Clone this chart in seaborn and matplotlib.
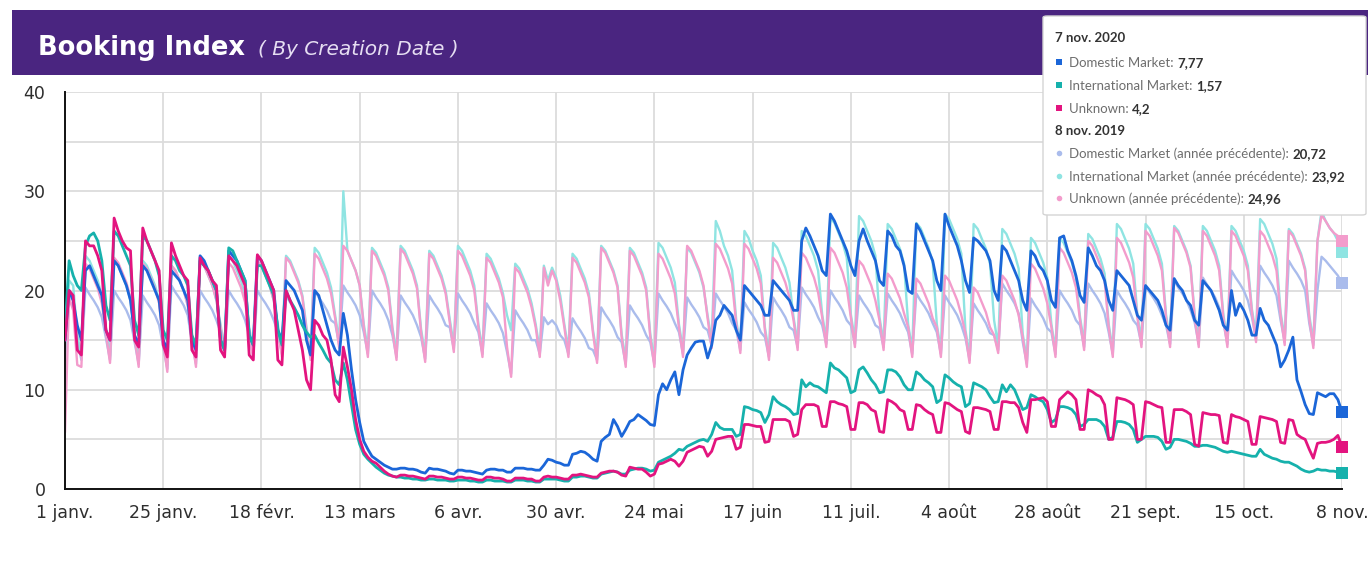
import matplotlib
matplotlib.use("Agg")
import numpy as np
import pandas as pd
import matplotlib.pyplot as plt
import seaborn as sns
from matplotlib.patches import Rectangle, FancyBboxPatch
from matplotlib.lines import Line2D

# ---------------------------------------------------------------- data
start_date = "2020-01-01"
tick_labels = ["1 janv.", "25 janv.", "18 févr.", "13 mars", "6 avr.", "30 avr.",
               "24 mai", "17 juin", "11 juil.", "4 août", "28 août", "21 sept.",
               "15 oct.", "8 nov."]

# daily booking index, first row = Wed 1 Jan .. Sun 5 Jan, then one row per week (Mon..Sun)
dom_2020 = [
    [15.0, 20.0, 19.0, 16.5, 15.0],
    [22.0, 22.5, 21.5, 20.5, 19.5, 16.0, 15.0],
    [23.0, 22.5, 21.5, 20.5, 19.0, 15.5, 14.5],
    [22.5, 22.0, 21.0, 20.0, 19.0, 15.0, 14.0],
    [22.0, 21.5, 21.0, 20.0, 19.0, 15.0, 14.0],
    [23.5, 23.0, 22.0, 21.0, 20.0, 15.0, 14.0],
    [24.0, 23.5, 23.0, 22.0, 21.0, 15.5, 14.5],
    [23.5, 23.0, 22.0, 21.0, 20.0, 16.0, 15.0],
    [21.0, 20.5, 20.0, 19.0, 18.0, 15.0, 13.5],
    [20.0, 19.5, 18.0, 16.5, 15.0, 14.0, 13.5],
    [17.7, 15.5, 12.0, 9.0, 6.7, 4.8, 4.0],
    [3.3, 3.0, 2.7, 2.4, 2.2, 2.0, 2.0],
    [2.1, 2.1, 2.0, 2.0, 1.9, 1.7, 1.6],
    [2.1, 2.0, 2.0, 1.9, 1.8, 1.6, 1.5],
    [1.9, 1.9, 1.8, 1.8, 1.7, 1.6, 1.5],
    [1.9, 2.0, 2.0, 1.9, 1.9, 1.7, 1.7],
    [2.1, 2.1, 2.1, 2.0, 2.0, 1.9, 1.9],
    [2.4, 3.0, 2.9, 2.7, 2.6, 2.4, 2.4],
    [3.5, 3.6, 3.8, 3.7, 3.4, 3.0, 2.8],
    [4.8, 5.2, 5.5, 7.0, 6.3, 5.3, 6.0],
    [6.8, 7.0, 7.5, 7.2, 6.9, 6.5, 6.4],
    [9.5, 10.6, 10.0, 11.0, 11.8, 9.5, 12.0],
    [13.5, 14.2, 14.8, 14.9, 14.9, 13.2, 14.5],
    [17.0, 17.5, 18.5, 18.0, 17.5, 16.0, 15.0],
    [20.5, 20.0, 19.5, 19.0, 18.5, 17.5, 17.5],
    [21.0, 20.5, 20.0, 19.5, 19.0, 18.0, 18.0],
    [25.0, 26.3, 25.5, 24.5, 23.5, 22.0, 21.5],
    [27.7, 27.0, 26.0, 25.0, 24.0, 22.5, 21.5],
    [25.0, 26.2, 25.0, 24.0, 23.0, 21.0, 20.5],
    [26.0, 25.5, 24.5, 24.0, 22.5, 20.0, 19.7],
    [26.7, 26.0, 25.0, 24.0, 23.0, 21.0, 20.0],
    [27.7, 26.5, 25.5, 24.5, 23.0, 21.0, 19.8],
    [25.3, 25.0, 24.5, 24.0, 23.0, 20.0, 19.0],
    [24.5, 24.0, 23.0, 22.0, 21.0, 19.0, 18.0],
    [24.0, 23.5, 22.5, 22.0, 21.0, 19.0, 18.3],
    [25.3, 25.5, 24.0, 23.0, 21.5, 19.5, 18.8],
    [24.3, 23.5, 22.5, 22.0, 21.0, 19.0, 18.0],
    [22.0, 21.5, 21.0, 20.5, 19.0, 17.5, 17.0],
    [20.5, 20.0, 19.5, 19.0, 18.0, 16.5, 16.0],
    [21.2, 20.5, 20.0, 19.0, 18.5, 17.0, 16.5],
    [21.0, 20.5, 20.0, 19.0, 18.0, 16.5, 16.0],
    [20.0, 17.5, 18.7, 18.0, 17.0, 15.5, 15.5],
    [18.2, 17.0, 16.5, 15.5, 14.5, 12.3, 13.0],
    [14.0, 15.3, 11.0, 9.8, 8.5, 7.6, 7.5],
    [9.7, 9.5, 9.3, 9.6, 9.6, 9.0, 7.77],
]

intl_2020 = [
    [16.0, 23.0, 21.5, 20.5, 20.0],
    [24.5, 25.5, 25.8, 25.0, 23.0, 18.5, 17.0],
    [26.0, 25.5, 24.5, 23.5, 22.5, 17.0, 15.5],
    [25.5, 25.0, 24.0, 23.0, 21.5, 16.0, 15.0],
    [23.5, 23.0, 22.0, 21.5, 20.5, 15.5, 14.5],
    [23.0, 22.5, 22.0, 21.0, 20.0, 15.0, 14.0],
    [24.3, 24.0, 23.0, 22.0, 21.0, 15.5, 14.5],
    [22.5, 22.5, 21.5, 20.5, 19.5, 16.0, 14.5],
    [20.0, 19.0, 18.3, 17.5, 16.5, 15.8, 15.3],
    [15.5, 14.7, 14.0, 13.2, 12.7, 11.0, 10.5],
    [12.7, 11.0, 8.5, 6.0, 4.5, 3.5, 3.0],
    [2.6, 2.2, 1.9, 1.6, 1.4, 1.3, 1.2],
    [1.2, 1.1, 1.1, 1.0, 1.0, 0.9, 0.9],
    [1.0, 1.0, 0.9, 0.9, 0.9, 0.8, 0.8],
    [0.9, 0.9, 0.9, 0.8, 0.8, 0.7, 0.7],
    [0.9, 0.9, 0.8, 0.8, 0.8, 0.7, 0.7],
    [0.9, 0.9, 0.9, 0.8, 0.8, 0.7, 0.7],
    [1.0, 1.0, 1.0, 1.0, 0.9, 0.8, 0.8],
    [1.2, 1.2, 1.3, 1.3, 1.2, 1.1, 1.1],
    [1.5, 1.6, 1.7, 1.8, 1.7, 1.5, 1.5],
    [1.9, 2.0, 2.1, 2.1, 2.0, 1.8, 1.9],
    [2.7, 2.9, 3.1, 3.3, 3.6, 4.0, 3.9],
    [4.3, 4.5, 4.7, 4.9, 5.0, 4.8, 5.5],
    [6.7, 6.2, 6.0, 6.0, 6.0, 5.3, 5.5],
    [8.3, 8.2, 8.0, 7.9, 7.7, 6.7, 7.5],
    [9.3, 8.8, 8.5, 8.3, 8.0, 7.5, 7.6],
    [11.0, 10.3, 10.7, 10.4, 10.3, 10.0, 9.7],
    [12.7, 12.2, 12.0, 11.6, 11.2, 9.7, 9.9],
    [12.0, 12.3, 11.7, 11.0, 10.5, 9.7, 9.8],
    [12.0, 12.0, 11.8, 11.3, 10.5, 10.0, 10.0],
    [11.8, 11.5, 11.0, 10.7, 10.3, 8.7, 9.0],
    [11.5, 11.2, 10.8, 10.5, 10.3, 8.3, 8.6],
    [10.7, 10.5, 10.3, 10.0, 9.3, 8.7, 8.8],
    [10.5, 9.8, 10.5, 10.0, 9.0, 8.0, 8.2],
    [9.5, 9.3, 9.0, 8.8, 8.0, 6.7, 7.0],
    [8.3, 8.3, 8.2, 8.0, 7.5, 6.3, 6.5],
    [7.0, 7.0, 7.0, 6.8, 6.3, 5.0, 5.2],
    [6.8, 6.8, 6.7, 6.5, 6.0, 4.7, 5.0],
    [5.3, 5.3, 5.3, 5.2, 4.8, 4.0, 4.2],
    [5.0, 5.0, 4.9, 4.8, 4.6, 4.3, 4.3],
    [4.4, 4.4, 4.3, 4.2, 4.0, 3.8, 3.7],
    [3.8, 3.7, 3.6, 3.5, 3.4, 3.3, 3.3],
    [4.0, 3.5, 3.3, 3.1, 3.0, 2.8, 2.7],
    [2.7, 2.5, 2.3, 2.0, 1.8, 1.7, 1.8],
    [2.0, 1.9, 1.9, 1.8, 1.8, 1.7, 1.57],
]

unk_2020 = [
    [15.0, 20.0, 19.5, 14.0, 13.5],
    [25.0, 24.5, 24.5, 23.5, 22.0, 16.0, 15.0],
    [27.3, 26.0, 25.0, 24.3, 24.0, 15.0, 14.3],
    [26.3, 25.0, 24.0, 23.0, 22.0, 14.5, 13.3],
    [24.8, 23.5, 22.5, 21.5, 21.0, 14.0, 13.3],
    [23.3, 22.5, 22.0, 21.0, 20.5, 14.0, 13.3],
    [23.5, 23.0, 22.5, 21.5, 20.5, 13.5, 13.0],
    [23.6, 23.0, 22.0, 21.0, 20.0, 13.0, 12.5],
    [20.0, 19.0, 18.0, 16.0, 14.0, 11.0, 10.0],
    [17.0, 16.5, 15.5, 15.0, 13.0, 9.5, 8.8],
    [14.3, 12.3, 10.0, 7.0, 5.0, 3.8, 3.2],
    [2.8, 2.6, 2.2, 1.8, 1.5, 1.3, 1.2],
    [1.4, 1.4, 1.3, 1.3, 1.2, 1.1, 1.0],
    [1.3, 1.3, 1.2, 1.2, 1.1, 1.0, 1.0],
    [1.2, 1.2, 1.1, 1.1, 1.0, 0.9, 0.9],
    [1.2, 1.2, 1.1, 1.1, 1.0, 0.8, 0.8],
    [1.1, 1.1, 1.1, 1.0, 1.0, 0.8, 0.8],
    [1.2, 1.3, 1.2, 1.2, 1.1, 1.0, 1.0],
    [1.4, 1.4, 1.5, 1.4, 1.3, 1.2, 1.2],
    [1.6, 1.7, 1.8, 1.8, 1.7, 1.4, 1.3],
    [2.2, 2.1, 2.0, 2.0, 1.7, 1.3, 1.5],
    [2.5, 2.6, 2.8, 3.0, 2.8, 2.3, 2.8],
    [3.7, 3.9, 4.1, 4.3, 4.2, 3.3, 3.8],
    [5.0, 5.1, 5.2, 5.3, 5.3, 4.0, 4.2],
    [6.5, 6.5, 6.4, 6.3, 6.3, 4.7, 4.8],
    [7.0, 7.0, 7.0, 7.0, 6.8, 5.3, 5.5],
    [8.0, 8.5, 8.5, 8.5, 8.3, 6.3, 6.3],
    [8.8, 8.8, 8.6, 8.5, 8.3, 6.0, 6.0],
    [8.7, 8.7, 8.5, 8.0, 7.8, 5.8, 5.7],
    [9.0, 8.8, 8.5, 8.0, 7.8, 6.0, 6.0],
    [8.5, 8.4, 8.0, 7.7, 7.5, 5.7, 5.7],
    [8.7, 8.6, 8.3, 8.0, 7.8, 5.8, 5.6],
    [8.2, 8.2, 8.1, 8.0, 7.8, 6.0, 6.0],
    [8.8, 8.8, 8.7, 8.7, 8.2, 6.7, 5.7],
    [9.0, 9.0, 9.1, 9.2, 8.8, 6.3, 6.3],
    [9.0, 9.4, 9.8, 9.5, 9.0, 6.0, 6.0],
    [10.0, 9.8, 9.5, 9.3, 8.5, 5.0, 5.0],
    [9.2, 9.1, 9.0, 8.8, 8.5, 5.0, 5.0],
    [8.8, 8.7, 8.5, 8.3, 8.2, 4.7, 4.7],
    [8.0, 8.0, 8.0, 7.8, 7.5, 4.5, 4.3],
    [7.7, 7.6, 7.5, 7.5, 7.4, 4.7, 4.6],
    [7.5, 7.3, 7.2, 7.0, 6.8, 4.5, 4.5],
    [7.3, 7.2, 7.1, 7.0, 6.8, 4.7, 4.6],
    [7.0, 6.9, 5.5, 5.2, 5.0, 4.0, 3.1],
    [4.6, 4.7, 4.7, 4.8, 5.0, 5.4, 4.2],
]

dom_2019 = [
    [13.0, 19.5, 19.0, 15.0, 13.0],
    [20.3, 19.6, 19.0, 18.3, 17.3, 15.2, 13.0],
    [20.0, 19.3, 18.7, 18.0, 17.0, 14.8, 12.6],
    [19.5, 18.8, 18.2, 17.5, 16.5, 14.3, 12.1],
    [20.5, 19.8, 19.2, 18.5, 17.5, 14.8, 12.6],
    [20.0, 19.3, 18.7, 18.0, 17.0, 15.8, 13.6],
    [20.0, 19.3, 18.7, 18.0, 17.0, 15.5, 13.3],
    [20.0, 19.3, 18.7, 18.0, 17.0, 15.8, 13.6],
    [19.5, 18.8, 18.2, 17.5, 16.5, 15.5, 13.3],
    [20.0, 19.3, 18.7, 18.0, 17.0, 16.7, 14.5],
    [20.5, 19.8, 19.2, 18.5, 17.5, 15.8, 13.6],
    [20.0, 19.3, 18.7, 18.0, 17.0, 15.5, 13.3],
    [19.5, 18.8, 18.2, 17.5, 16.5, 15.3, 13.1],
    [19.5, 18.8, 18.2, 17.5, 16.5, 16.3, 14.1],
    [19.7, 19.0, 18.4, 17.7, 16.7, 15.8, 13.6],
    [18.7, 18.0, 17.4, 16.7, 15.7, 13.8, 11.6],
    [18.0, 17.3, 16.7, 16.0, 15.0, 15.0, 13.6],
    [17.3, 16.6, 17.0, 16.5, 15.5, 15.0, 13.6],
    [17.2, 16.5, 15.9, 15.2, 14.2, 14.0, 13.0],
    [18.3, 17.6, 17.0, 16.3, 15.3, 14.8, 12.6],
    [18.5, 17.8, 17.2, 16.5, 15.5, 14.8, 12.6],
    [19.7, 19.0, 18.4, 17.7, 16.7, 15.8, 13.6],
    [19.3, 18.6, 18.0, 17.3, 16.3, 16.0, 14.5],
    [19.7, 19.0, 18.4, 17.7, 16.7, 16.0, 14.0],
    [18.8, 18.1, 17.5, 16.8, 15.8, 15.3, 13.3],
    [19.3, 18.6, 18.0, 17.3, 16.3, 16.0, 14.3],
    [20.3, 19.6, 19.0, 18.3, 17.3, 16.5, 14.6],
    [20.0, 19.3, 18.7, 18.0, 17.0, 16.5, 14.6],
    [19.5, 18.8, 18.2, 17.5, 16.5, 16.2, 14.3],
    [19.7, 19.0, 18.4, 17.7, 16.7, 15.8, 13.6],
    [19.7, 19.0, 18.4, 17.7, 16.7, 15.8, 13.6],
    [19.5, 18.8, 18.2, 17.5, 16.5, 15.2, 13.0],
    [18.7, 18.0, 17.4, 16.7, 15.7, 15.5, 14.0],
    [20.7, 20.0, 19.4, 18.7, 17.7, 14.8, 12.6],
    [19.2, 18.5, 17.9, 17.2, 16.2, 15.8, 13.6],
    [20.0, 19.3, 18.7, 18.0, 17.0, 16.5, 14.3],
    [20.7, 20.0, 19.4, 18.7, 17.7, 15.8, 13.6],
    [20.0, 19.3, 18.7, 18.0, 17.0, 16.5, 14.6],
    [20.5, 19.8, 19.2, 18.5, 17.5, 16.5, 14.6],
    [21.0, 20.3, 19.7, 19.0, 18.0, 16.8, 14.6],
    [21.3, 20.6, 20.0, 19.3, 18.3, 16.8, 14.6],
    [22.0, 21.3, 20.7, 20.0, 19.0, 17.3, 15.1],
    [22.5, 21.8, 21.2, 20.5, 19.5, 17.0, 14.8],
    [23.0, 22.3, 21.7, 21.0, 20.0, 16.7, 14.5],
    [20.0, 23.4, 23.0, 22.5, 22.0, 21.5, 20.72],
]

intl_2019 = [
    [14.0, 21.0, 20.5, 15.5, 13.5],
    [23.5, 23.0, 22.0, 21.0, 19.5, 16.0, 13.4],
    [23.0, 22.5, 21.5, 20.5, 19.0, 15.6, 13.0],
    [23.0, 22.5, 21.5, 20.5, 19.0, 15.1, 12.5],
    [22.5, 22.0, 21.0, 20.0, 18.5, 15.6, 13.0],
    [23.0, 22.5, 21.5, 20.5, 19.0, 16.6, 14.0],
    [23.5, 23.0, 22.0, 21.0, 19.5, 16.3, 13.7],
    [23.0, 22.5, 21.5, 20.5, 19.0, 16.6, 14.0],
    [23.5, 23.0, 22.0, 21.0, 19.5, 16.3, 13.7],
    [24.3, 23.8, 22.8, 21.8, 20.3, 17.5, 14.9],
    [30.0, 24.0, 23.0, 22.0, 20.5, 16.6, 14.0],
    [24.3, 23.8, 22.8, 21.8, 20.3, 16.3, 13.7],
    [24.5, 24.0, 23.0, 22.0, 20.5, 16.1, 13.5],
    [24.0, 23.5, 22.5, 21.5, 20.0, 17.1, 14.5],
    [24.5, 24.0, 23.0, 22.0, 20.5, 16.6, 14.0],
    [23.7, 23.2, 22.2, 21.2, 19.7, 17.5, 16.0],
    [22.7, 22.2, 21.2, 20.2, 18.7, 16.6, 14.0],
    [22.5, 21.0, 22.3, 21.3, 19.5, 16.6, 14.0],
    [23.7, 23.2, 22.2, 21.2, 19.7, 16.0, 13.4],
    [24.5, 24.0, 23.0, 22.0, 20.5, 15.6, 13.0],
    [24.3, 23.8, 22.8, 21.8, 20.3, 15.6, 13.0],
    [24.8, 24.3, 23.3, 22.3, 20.8, 16.6, 14.0],
    [24.3, 23.8, 22.8, 21.8, 20.3, 17.5, 14.9],
    [27.0, 26.0, 24.5, 23.5, 22.0, 17.0, 14.4],
    [26.0, 25.3, 24.0, 23.0, 21.5, 16.3, 13.7],
    [24.8, 24.3, 23.3, 22.3, 20.8, 17.3, 14.7],
    [26.0, 25.5, 24.5, 23.5, 22.0, 17.6, 15.0],
    [27.3, 26.8, 25.8, 24.8, 23.3, 17.6, 15.0],
    [27.5, 27.0, 26.0, 25.0, 23.5, 17.3, 14.7],
    [26.7, 26.2, 25.2, 24.2, 22.7, 16.6, 14.0],
    [26.8, 26.3, 25.3, 24.3, 22.8, 16.6, 14.0],
    [27.7, 27.2, 26.2, 25.2, 23.7, 16.0, 13.4],
    [26.7, 26.2, 25.2, 24.2, 22.7, 17.0, 14.4],
    [26.2, 25.7, 24.7, 23.7, 22.2, 15.6, 13.0],
    [25.3, 24.8, 23.8, 22.8, 21.3, 16.6, 14.0],
    [25.3, 24.8, 23.8, 22.8, 21.3, 17.3, 14.7],
    [25.7, 25.2, 24.2, 23.2, 21.7, 16.6, 14.0],
    [26.7, 26.2, 25.2, 24.2, 22.7, 17.6, 15.0],
    [26.7, 26.2, 25.2, 24.2, 22.7, 17.6, 15.0],
    [26.5, 26.0, 25.0, 24.0, 22.5, 17.6, 15.0],
    [26.5, 26.0, 25.0, 24.0, 22.5, 17.6, 15.0],
    [26.5, 26.0, 25.0, 24.0, 22.5, 18.1, 15.5],
    [27.2, 26.7, 25.7, 24.7, 23.2, 17.8, 15.2],
    [26.2, 25.7, 24.7, 23.7, 22.2, 17.5, 14.9],
    [25.0, 28.0, 27.0, 26.3, 25.8, 25.0, 23.92],
]

unk_2019 = [
    [5.7, 19.3, 18.0, 12.5, 12.3],
    [22.7, 22.2, 21.2, 20.2, 18.7, 15.7, 12.7],
    [23.3, 22.8, 21.8, 20.8, 19.3, 15.3, 12.3],
    [22.7, 22.2, 21.2, 20.2, 18.7, 14.8, 11.8],
    [22.5, 22.0, 21.0, 20.0, 18.5, 15.3, 12.3],
    [23.0, 22.5, 21.5, 20.5, 19.0, 16.3, 13.3],
    [22.8, 22.3, 21.3, 20.3, 18.8, 16.0, 13.0],
    [23.0, 22.5, 21.5, 20.5, 19.0, 16.3, 13.3],
    [23.3, 22.8, 21.8, 20.8, 19.3, 16.0, 13.0],
    [23.7, 23.2, 22.2, 21.2, 19.7, 17.2, 14.2],
    [24.5, 24.0, 23.0, 22.0, 20.5, 16.3, 13.3],
    [24.0, 23.5, 22.5, 21.5, 20.0, 16.0, 13.0],
    [24.2, 23.7, 22.7, 21.7, 20.2, 15.8, 12.8],
    [23.7, 23.2, 22.2, 21.2, 19.7, 16.8, 13.8],
    [24.0, 23.5, 22.5, 21.5, 20.0, 16.3, 13.3],
    [23.3, 22.8, 21.8, 20.8, 19.3, 14.3, 11.3],
    [22.3, 21.8, 20.8, 19.8, 18.3, 16.3, 13.3],
    [22.3, 20.5, 22.0, 21.0, 19.0, 16.3, 13.3],
    [23.3, 22.8, 21.8, 20.8, 19.3, 15.7, 12.7],
    [24.3, 23.8, 22.8, 21.8, 20.3, 15.3, 12.3],
    [24.0, 23.5, 22.5, 21.5, 20.0, 15.3, 12.3],
    [23.7, 23.2, 22.2, 21.2, 19.7, 16.3, 13.3],
    [24.5, 24.0, 23.0, 22.0, 20.5, 17.2, 14.2],
    [24.7, 24.2, 23.2, 22.2, 20.7, 16.7, 13.7],
    [24.7, 24.2, 23.2, 22.2, 20.7, 16.0, 13.0],
    [23.3, 22.8, 21.8, 20.8, 19.3, 17.0, 14.0],
    [23.8, 23.3, 22.3, 21.3, 19.8, 17.3, 14.3],
    [24.3, 23.8, 22.8, 21.8, 20.3, 17.3, 14.3],
    [23.0, 22.5, 21.5, 20.5, 19.0, 17.0, 14.0],
    [21.7, 21.2, 20.2, 19.2, 17.7, 16.3, 13.3],
    [21.2, 20.7, 19.7, 18.7, 17.2, 16.3, 13.3],
    [21.5, 21.0, 20.0, 19.0, 17.5, 15.7, 12.7],
    [20.3, 19.8, 18.8, 17.8, 16.3, 15.5, 13.7],
    [21.5, 21.0, 20.0, 19.0, 17.5, 15.3, 12.3],
    [22.7, 22.2, 21.2, 20.2, 18.7, 16.3, 13.3],
    [24.3, 23.8, 22.8, 21.8, 20.3, 17.0, 14.0],
    [25.0, 24.5, 23.5, 22.5, 21.0, 16.3, 13.3],
    [25.3, 24.8, 23.8, 22.8, 21.3, 17.3, 14.3],
    [26.0, 25.5, 24.5, 23.5, 22.0, 17.3, 14.3],
    [26.3, 25.8, 24.8, 23.8, 22.3, 17.3, 14.3],
    [26.0, 25.5, 24.5, 23.5, 22.0, 17.3, 14.3],
    [26.0, 25.5, 24.5, 23.5, 22.0, 17.8, 14.8],
    [26.0, 25.5, 24.5, 23.5, 22.0, 17.5, 14.5],
    [26.0, 25.5, 24.5, 23.5, 22.0, 17.2, 14.2],
    [25.0, 27.6, 27.0, 26.3, 25.8, 25.5, 24.96],
]

# ---------------------------------------------------------------- styling
current_names = ["Domestic Market", "International Market", "Unknown"]
previous_names = [n + " (année précédente)" for n in current_names]
colors = {
    "Domestic Market": "#1b66d8",
    "International Market": "#16b1ac",
    "Unknown": "#e3147f",
    "Domestic Market (année précédente)": "#aabcec",
    "International Market (année précédente)": "#8fe4e2",
    "Unknown (année précédente)": "#f39ccc",
}
series_rows = {
    "Domestic Market": dom_2020,
    "International Market": intl_2020,
    "Unknown": unk_2020,
    "Domestic Market (année précédente)": dom_2019,
    "International Market (année précédente)": intl_2019,
    "Unknown (année précédente)": unk_2019,
}


def flatten(rows):
    return [v for row in rows for v in row]


n_days = len(flatten(dom_2020))
dates = pd.date_range(start_date, periods=n_days, freq="D")
frames = []
for name, rows in series_rows.items():
    vals = flatten(rows)
    frames.append(pd.DataFrame({"date": dates, "value": vals, "series": name}))
df = pd.concat(frames, ignore_index=True)

sns.set_theme(style="white")
plt.rcParams["font.family"] = ["DejaVu Sans"]

W, H = 1368, 564
fig = plt.figure(figsize=(W / 100, H / 100), dpi=100)
fig.patch.set_facecolor("white")


def fx(px):
    return px / W


def fy(py):
    return 1 - py / H


ax_left, ax_right, ax_top, ax_bottom = 65, 1342, 92, 489
ax = fig.add_axes([fx(ax_left), fy(ax_bottom), fx(ax_right - ax_left),
                   (ax_bottom - ax_top) / H])

prev_df = df[df["series"].isin(previous_names)]
cur_df = df[df["series"].isin(current_names)]
sns.lineplot(data=prev_df, x="date", y="value", hue="series",
             hue_order=previous_names, palette=colors, estimator=None,
             linewidth=1.7, ax=ax, legend=False, zorder=2)
sns.lineplot(data=cur_df, x="date", y="value", hue="series",
             hue_order=current_names, palette=colors, estimator=None,
             linewidth=2.0, ax=ax, legend=False, zorder=3)

# highlighted last points
for name in previous_names + current_names:
    last = df[df["series"] == name].iloc[-1]
    ax.plot([last["date"]], [last["value"]], marker="s", markersize=8,
            color=colors[name], markeredgewidth=0, linestyle="none",
            clip_on=False, zorder=5)

# axes, ticks and grid
ax.set_xlim(dates[0], dates[-1])
ax.set_ylim(0, 40)
tick_dates = pd.date_range(start_date, periods=len(tick_labels), freq="24D")
ax.set_xticks(tick_dates)
ax.set_xticklabels(tick_labels)
ax.set_yticks([0, 10, 20, 30, 40])
ax.set_yticks([5, 15, 25, 35], minor=True)
ax.grid(True, which="both", color="#dcdcdc", linewidth=1.3)
ax.set_axisbelow(True)
ax.tick_params(axis="both", which="both", length=0, labelsize=12.5,
               labelcolor="#2e2e2e")
ax.tick_params(axis="x", pad=11)
ax.tick_params(axis="y", pad=14)
ax.set_xlabel("")
ax.set_ylabel("")
for side in ["top", "right"]:
    ax.spines[side].set_visible(False)
for side in ["left", "bottom"]:
    ax.spines[side].set_color("#111111")
    ax.spines[side].set_linewidth(1.4)

# title band
fig.add_artist(Rectangle((fx(12), fy(75)), fx(W - 12), 65 / H,
                         transform=fig.transFigure, facecolor="#4a2580",
                         edgecolor="none", zorder=1))
title = fig.text(fx(38), fy(55), "Booking Index", color="white",
                 fontsize=18.5, fontweight="bold", va="baseline", ha="left",
                 zorder=2)

# hover tooltip
tip = FancyBboxPatch((fx(1043), fy(215)), fx(1366 - 1043), (215 - 16) / H,
                     boxstyle="round,pad=0,rounding_size=0.003",
                     transform=fig.transFigure, facecolor="white",
                     edgecolor="#d4d4d4", linewidth=1.0, zorder=20)
fig.add_artist(tip)

tip_font = ["Lato", "DejaVu Sans"]
tip_size = 9.5


def fmt(v):
    return ("%g" % round(v, 2)).replace(".", ",")


fig.text(fx(1055), fy(37), "7 nov. 2020", fontsize=tip_size, fontweight="bold",
         color="#333333", va="center_baseline", family=tip_font, zorder=21)
fig.text(fx(1055), fy(130), "8 nov. 2019", fontsize=tip_size, fontweight="bold",
         color="#333333", va="center_baseline", family=tip_font, zorder=21)

rows_y = {
    "Domestic Market": 62, "International Market": 85, "Unknown": 108,
    "Domestic Market (année précédente)": 153,
    "International Market (année précédente)": 176,
    "Unknown (année précédente)": 198,
}
row_labels = {}
for name, y in rows_y.items():
    marker = "s" if name in current_names else "o"
    fig.add_artist(Line2D([fx(1059)], [fy(y)], marker=marker, markersize=4,
                          color=colors[name], markeredgewidth=0,
                          transform=fig.transFigure, zorder=21))
    row_labels[name] = fig.text(fx(1069), fy(y), name + ": ", fontsize=tip_size,
                                color="#6e6e6e", va="center_baseline",
                                family=tip_font, zorder=21)

# place the follow-on texts right after their lead texts
fig.canvas.draw()
renderer = fig.canvas.get_renderer()
tb = title.get_window_extent(renderer)
fig.text((tb.x1 + 13) / W, fy(55), "( By Creation Date )", color="#e6def2",
         fontsize=14.5, fontstyle="italic", va="baseline", ha="left", zorder=2)
for name, y in rows_y.items():
    last_val = df[df["series"] == name]["value"].iloc[-1]
    lb = row_labels[name].get_window_extent(renderer)
    fig.text(lb.x1 / W, fy(y), fmt(last_val), fontsize=tip_size,
             fontweight="bold", color="#333333", va="center_baseline",
             ha="left", family=tip_font, zorder=21)

fig.savefig("out.png", dpi=100, facecolor="white")
